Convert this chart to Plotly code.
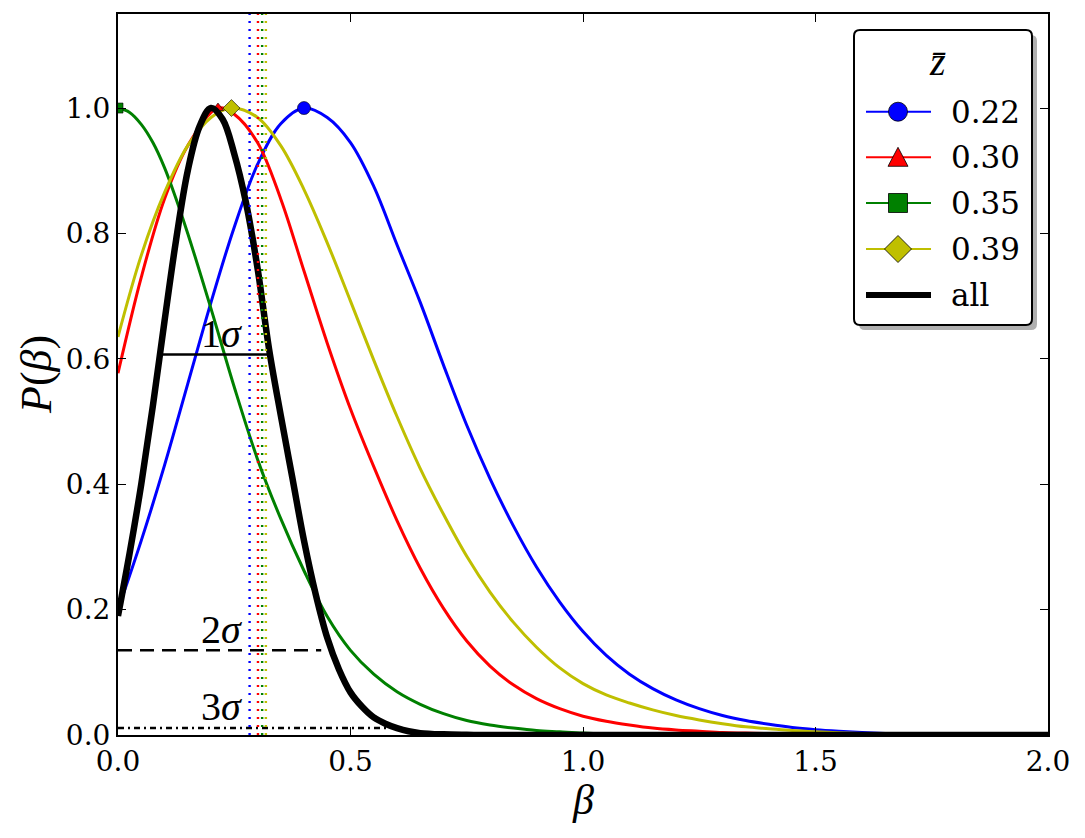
import plotly.graph_objects as go

# ---------------- data ----------------
beta_022 = [0.00, 0.05, 0.10, 0.15, 0.20, 0.25, 0.30, 0.35, 0.40, 0.45, 0.50, 0.55, 0.60, 0.65,
            0.70, 0.75, 0.80, 0.85, 0.90, 0.95, 1.00, 1.05, 1.10, 1.15, 1.20, 1.25, 1.30, 1.35,
            1.40, 1.45, 1.50, 1.55, 1.60, 1.65, 1.70, 1.75, 1.80, 1.85, 1.90, 1.95, 2.00]
p_022 = [0.20, 0.31, 0.43, 0.56, 0.69, 0.81, 0.91, 0.975, 1.00, 0.985, 0.945, 0.875, 0.782, 0.690,
         0.590, 0.494, 0.409, 0.334, 0.268, 0.212, 0.165, 0.127, 0.097, 0.074, 0.056, 0.042, 0.031, 0.023,
         0.017, 0.012, 0.0085, 0.006, 0.004, 0.0025, 0.0015, 0.0008, 0.0004, 0.0002, 0.0001, 0.0, 0.0]

beta_030 = [0.00, 0.05, 0.10, 0.15, 0.215, 0.25, 0.30, 0.35, 0.40, 0.45, 0.50, 0.55, 0.60, 0.65,
            0.70, 0.75, 0.80, 0.85, 0.90, 0.95, 1.00, 1.05, 1.10, 1.15, 1.20, 1.25, 1.30, 1.35,
            1.40, 1.45, 1.50, 1.60, 1.70, 1.80, 1.90, 2.00]
p_030 = [0.577, 0.73, 0.855, 0.94, 1.00, 0.99, 0.945, 0.855, 0.74, 0.625, 0.52, 0.428, 0.342, 0.266,
         0.202, 0.150, 0.110, 0.080, 0.058, 0.042, 0.030, 0.022, 0.016, 0.011, 0.008, 0.006, 0.004, 0.003,
         0.002, 0.0015, 0.001, 0.0005, 0.0002, 0.0001, 0.0, 0.0]

beta_035 = [0.00, 0.025, 0.05, 0.075, 0.10, 0.125, 0.15, 0.20, 0.25, 0.30, 0.35, 0.40, 0.45, 0.50,
            0.55, 0.60, 0.65, 0.70, 0.75, 0.80, 0.85, 0.90, 0.95, 1.00, 1.10, 1.20, 1.30, 1.40,
            1.60, 1.80, 2.00]
p_035 = [1.00, 0.993, 0.974, 0.945, 0.905, 0.855, 0.80, 0.68, 0.555, 0.44, 0.345, 0.262, 0.189, 0.135,
         0.097, 0.069, 0.049, 0.034, 0.023, 0.016, 0.011, 0.007, 0.005, 0.003, 0.001, 0.0005, 0.0002, 0.0001,
         0.0, 0.0, 0.0]

beta_039 = [0.00, 0.05, 0.10, 0.15, 0.20, 0.244, 0.30, 0.35, 0.40, 0.45, 0.50, 0.55, 0.60, 0.65,
            0.70, 0.75, 0.80, 0.85, 0.90, 0.95, 1.00, 1.05, 1.10, 1.15, 1.20, 1.25, 1.30, 1.35,
            1.40, 1.45, 1.50, 1.55, 1.60, 1.65, 1.70, 1.75, 1.80, 1.90, 2.00]
p_039 = [0.635, 0.765, 0.865, 0.94, 0.985, 1.00, 0.985, 0.94, 0.87, 0.785, 0.692, 0.598, 0.508, 0.425,
         0.352, 0.285, 0.228, 0.18, 0.14, 0.107, 0.082, 0.064, 0.051, 0.040, 0.031, 0.024, 0.018, 0.013,
         0.010, 0.007, 0.005, 0.0035, 0.0025, 0.0015, 0.001, 0.0005, 0.0003, 0.0001, 0.0]

beta_all = [0.000, 0.025, 0.050, 0.075, 0.100, 0.125, 0.150, 0.175, 0.200, 0.225, 0.250, 0.275,
            0.300, 0.325, 0.350, 0.375, 0.400, 0.425, 0.450, 0.475, 0.500, 0.525, 0.550, 0.575,
            0.600, 0.625, 0.650, 0.700, 0.750, 0.800, 1.000, 1.500, 2.000]
p_all = [0.19, 0.29, 0.40, 0.525, 0.66, 0.79, 0.90, 0.97, 1.00, 0.982, 0.927, 0.85,
         0.745, 0.615, 0.51, 0.41, 0.31, 0.225, 0.155, 0.105, 0.068, 0.045, 0.028, 0.018,
         0.011, 0.006, 0.003, 0.001, 0.0003, 0.0, 0.0, 0.0, 0.0]

zbar_labels = ["0.22", "0.30", "0.35", "0.39"]
peak_beta = [0.40, 0.215, 0.0, 0.244]
peak_p = [1.0, 1.0, 1.0, 1.0]
mean_beta = [0.283, 0.301, 0.310, 0.318]

sigma_labels = ["1", "2", "3"]
sigma_level = [0.607, 0.135, 0.011]
sigma_x0 = [0.093, 0.0, 0.0]
sigma_x1 = [0.330, 0.437, 0.585]

x_ticks = [0.0, 0.5, 1.0, 1.5, 2.0]
x_ticktext = ["0.0", "0.5", "1.0", "1.5", "2.0"]
y_ticks = [0.0, 0.2, 0.4, 0.6, 0.8, 1.0]
y_ticktext = ["0.0", "0.2", "0.4", "0.6", "0.8", "1.0"]

# ---------------- styles ----------------
colors = ["#0000ff", "#ff0000", "#008000", "#bfbf00"]
symbols = ["circle", "triangle-up", "square", "diamond"]
msizes = [13, 10, 10, 13]
SERIF = "DejaVu Serif"
MATH = "Liberation Serif"

W, H = 1085, 838
L, R, T, B = 118, 37, 14, 103
PW, PH = W - L - R, H - T - B


def PX(x):
    return (x - L) / PW


def PY(y):
    return (H - B - y) / PH


fig = go.Figure()

series = [(beta_022, p_022), (beta_030, p_030), (beta_035, p_035), (beta_039, p_039)]
for i, (bx, py) in enumerate(series):
    fig.add_trace(go.Scatter(x=bx, y=py, mode="lines",
                             line=dict(color=colors[i], width=3, shape="spline", smoothing=1.0),
                             showlegend=False, hoverinfo="skip"))
for i in range(4):
    fig.add_trace(go.Scatter(x=[peak_beta[i]], y=[peak_p[i]], mode="markers",
                             marker=dict(symbol=symbols[i], size=msizes[i], color=colors[i],
                                         line=dict(color="black", width=0.6)),
                             showlegend=False, hoverinfo="skip"))

fig.add_trace(go.Scatter(x=beta_all, y=p_all, mode="lines",
                         line=dict(color="black", width=6.5, shape="spline", smoothing=1.0),
                         showlegend=False, hoverinfo="skip"))

dashes = ["solid", "14px,8px", "6px,4px,2px,4px"]
for i in range(3):
    fig.add_trace(go.Scatter(x=[sigma_x0[i], sigma_x1[i]], y=[sigma_level[i], sigma_level[i]],
                             mode="lines", line=dict(color="black", width=2.5, dash=dashes[i]),
                             showlegend=False, hoverinfo="skip"))

for i in range(4):
    fig.add_trace(go.Scatter(x=[mean_beta[i], mean_beta[i]], y=[0, 1.15], mode="lines",
                             line=dict(color=colors[i], width=2.4, dash="2px,6px"),
                             showlegend=False, hoverinfo="skip"))

# sigma labels
sig_label_y = [0.64, 0.169, 0.045]
annotations = []
for i in range(3):
    annotations.append(dict(x=0.2215, y=sig_label_y[i], xref="x", yref="y",
                            text=sigma_labels[i] + "<i>σ</i>", showarrow=False,
                            font=dict(family=MATH, size=40, color="black"),
                            xanchor="center", yanchor="middle"))

# axis titles
annotations.append(dict(x=PX(36), y=PY(375), xref="paper", yref="paper",
                        text="<i>P</i>(<i>β</i>)", showarrow=False, textangle=-90,
                        font=dict(family=MATH, size=44, color="black"),
                        xanchor="center", yanchor="middle"))
annotations.append(dict(x=PX(583), y=PY(800), xref="paper", yref="paper",
                        text="<i>β</i>", showarrow=False,
                        font=dict(family=MATH, size=42, color="black"),
                        xanchor="center", yanchor="middle"))

# ---------------- hand-built legend ----------------
shapes = []


def rrect(l, t, r, b, rad):
    pts = [("M", l + rad, t), ("L", r - rad, t), ("Q", r, t, r, t + rad), ("L", r, b - rad),
           ("Q", r, b, r - rad, b), ("L", l + rad, b), ("Q", l, b, l, b - rad), ("L", l, t + rad),
           ("Q", l, t, l + rad, t)]
    s = ""
    for p in pts:
        if p[0] == "Q":
            s += f"Q{PX(p[1])},{PY(p[2])} {PX(p[3])},{PY(p[4])} "
        else:
            s += f"{p[0]}{PX(p[1])},{PY(p[2])} "
    return s + "Z"


lg_l, lg_t, lg_r, lg_b = 854, 30, 1032, 325
shapes.append(dict(type="path", xref="paper", yref="paper", layer="above",
                   path=rrect(lg_l + 5, lg_t + 5, lg_r + 5, lg_b + 5, 6),
                   fillcolor="#b0b0b0", line=dict(width=0)))
shapes.append(dict(type="path", xref="paper", yref="paper", layer="above",
                   path=rrect(lg_l, lg_t, lg_r, lg_b, 6),
                   fillcolor="white", line=dict(color="black", width=2)))

rows = [111.7, 157.3, 203, 249, 295]
mx = 898
for i in range(5):
    y = rows[i]
    col = colors[i] if i < 4 else "black"
    lw = 2 if i < 4 else 6
    shapes.append(dict(type="line", xref="paper", yref="paper", layer="above",
                       x0=PX(866), x1=PX(931), y0=PY(y), y1=PY(y),
                       line=dict(color=col, width=lw)))
    lab = zbar_labels[i] if i < 4 else "all"
    annotations.append(dict(x=PX(949), y=PY(y), xref="paper", yref="paper", text=lab,
                            showarrow=False, font=dict(family=SERIF, size=31, color="black"),
                            xanchor="left", yanchor="middle"))

mk_line = dict(color="black", width=0.8)
# circle
y = rows[0]
shapes.append(dict(type="circle", xref="paper", yref="paper", layer="above",
                   x0=PX(mx - 9.5), x1=PX(mx + 9.5), y0=PY(y + 9.5), y1=PY(y - 9.5),
                   fillcolor=colors[0], line=mk_line))
# triangle
y = rows[1]
shapes.append(dict(type="path", xref="paper", yref="paper", layer="above",
                   path=f"M{PX(mx-10)},{PY(y+9)} L{PX(mx+10)},{PY(y+9)} L{PX(mx)},{PY(y-10)} Z",
                   fillcolor=colors[1], line=mk_line))
# square
y = rows[2]
shapes.append(dict(type="rect", xref="paper", yref="paper", layer="above",
                   x0=PX(mx - 9.5), x1=PX(mx + 9.5), y0=PY(y + 9.5), y1=PY(y - 9.5),
                   fillcolor=colors[2], line=mk_line))
# diamond
y = rows[3]
d = 13.5
shapes.append(dict(type="path", xref="paper", yref="paper", layer="above",
                   path=f"M{PX(mx)},{PY(y-d)} L{PX(mx+d)},{PY(y)} L{PX(mx)},{PY(y+d)} L{PX(mx-d)},{PY(y)} Z",
                   fillcolor=colors[3], line=mk_line))

annotations.append(dict(x=PX(937), y=PY(62), xref="paper", yref="paper", text="<i>z\u0304</i>",
                        showarrow=False, font=dict(family=MATH, size=40, color="black"),
                        xanchor="center", yanchor="middle"))

axis_common = dict(showgrid=False, zeroline=False, showline=True, linecolor="black", linewidth=2,
                   mirror="allticks", ticks="inside", ticklen=8, tickwidth=1, tickcolor="black",
                   tickfont=dict(family=SERIF, size=28, color="black"))

fig.update_layout(
    width=W, height=H,
    margin=dict(l=L, r=R, t=T, b=B),
    paper_bgcolor="white", plot_bgcolor="white",
    xaxis=dict(range=[0, 2], tickvals=x_ticks, ticktext=x_ticktext, **axis_common),
    yaxis=dict(range=[0, 1.15], tickvals=y_ticks, ticktext=y_ticktext, **axis_common),
    shapes=shapes, annotations=annotations, showlegend=False,
)

fig.write_html("out.html")
